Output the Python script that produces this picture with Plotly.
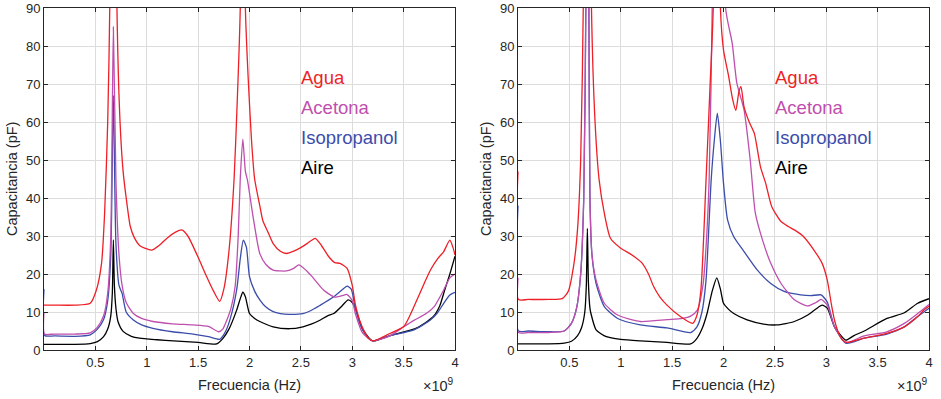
import plotly.graph_objects as go

# ---------------- data (frequency in GHz, i.e. x 10^9 Hz; capacitance in pF) -------------
# Left panel
agua_L_f = [0, 0.1, 0.3, 0.45, 0.51, 0.56, 0.59, 0.62, 0.64, 0.67, 0.71, 0.74, 0.77, 0.80, 0.84, 0.88, 0.93,
            0.98, 1.05, 1.12, 1.2, 1.28, 1.34, 1.40, 1.49, 1.58, 1.65, 1.71, 1.75, 1.80, 1.85, 1.88, 1.91,
            1.935, 1.96, 1.99, 2.02, 2.05, 2.10, 2.13, 2.18, 2.23, 2.30, 2.36, 2.43, 2.49, 2.56, 2.64, 2.70,
            2.77, 2.83, 2.88, 2.95, 3.0, 3.03, 3.07, 3.11, 3.16, 3.20, 3.28, 3.37, 3.50, 3.56, 3.63, 3.70,
            3.76, 3.83, 3.89, 3.95, 3.98, 4.0]
agua_L_c = [11.8, 11.8, 11.8, 12.3, 15.8, 22.8, 36, 60, 90, 300, 90, 60, 47, 40, 32.5, 29.5, 27.5,
            26.8, 26.3, 27.5, 29.5, 31, 31.6, 30, 25, 19.5, 15.5, 12.8, 16, 26, 45, 65, 90,
            300, 90, 70, 55, 45, 38, 34, 31, 28, 26, 25.4, 26, 26.8, 28, 29.4, 27.5,
            24.6, 23, 22.8, 21.5, 17, 12, 8, 5.3, 3.0, 2.4, 3.2, 4.4, 6.1, 9, 13.2, 17.5,
            21, 24, 25.9, 28.9, 27, 25]

acetona_L_f = [0, 0.005, 0.1, 0.3, 0.45, 0.52, 0.58, 0.62, 0.65, 0.675, 0.70, 0.73, 0.76, 0.80, 0.87,
               0.95, 1.06, 1.25, 1.45, 1.6, 1.70, 1.74, 1.78, 1.82, 1.86, 1.89, 1.91, 1.935, 1.96, 1.98,
               2.04, 2.10, 2.16, 2.23, 2.30, 2.36, 2.43, 2.48, 2.55, 2.61, 2.72, 2.83, 2.90, 2.95, 3.0,
               3.03, 3.1, 3.2, 3.37, 3.5, 3.6, 3.72, 3.8, 3.89, 3.95, 4.0]
acetona_L_c = [10, 4.2, 4.2, 4.2, 4.5, 6, 9, 15, 30, 85, 44.7, 25, 17, 12.5, 9.6,
               8.3, 7.5, 6.9, 6.6, 6.2, 4.8, 5.5, 7.9, 11, 16.7, 30, 45, 55.5, 47, 44.7,
               34.2, 25.4, 22.5, 21, 20.8, 20.8, 21.5, 22.4, 21, 19.3, 15.8, 13.9, 14.3, 14.6, 13,
               9.6, 4.5, 2.4, 3.8, 6.1, 7.8, 9.6, 11.5, 15.8, 19, 20]

isoprop_L_f = [0, 0.005, 0.1, 0.3, 0.45, 0.52, 0.58, 0.62, 0.65, 0.675, 0.70, 0.73, 0.76, 0.80, 0.87,
               0.95, 1.06, 1.25, 1.45, 1.6, 1.71, 1.76, 1.81, 1.875, 1.91, 1.94, 1.97, 2.0, 2.05, 2.10,
               2.16, 2.23, 2.30, 2.39, 2.52, 2.60, 2.69, 2.82, 2.90, 2.95, 2.99, 3.03, 3.08, 3.13, 3.2,
               3.37, 3.6, 3.76, 3.83, 3.89, 3.95, 4.0]
isoprop_L_c = [16, 3.8, 3.7, 3.6, 4.0, 5.5, 8, 13, 25, 67, 28, 17, 14.9, 10, 7.9,
               6.6, 5.7, 4.8, 4.2, 3.5, 2.8, 4.5, 8, 15.8, 24, 28.9, 27, 19.3, 15.5, 13.2,
               11.3, 10.1, 9.6, 9.4, 9.6, 10.4, 11.8, 14, 15.8, 16.8, 16, 11, 6.5, 4.0, 2.4,
               3.8, 5.3, 7.9, 9.8, 12.3, 14.5, 15.2]

aire_L_f = [0, 0.1, 0.3, 0.45, 0.52, 0.58, 0.62, 0.65, 0.665, 0.675, 0.685, 0.70, 0.72, 0.77, 0.85,
            0.93, 1.1, 1.26, 1.5, 1.68, 1.74, 1.80, 1.875, 1.91, 1.935, 1.96, 2.0, 2.05, 2.10, 2.23,
            2.39, 2.52, 2.60, 2.69, 2.76, 2.82, 2.90, 2.96, 3.0, 3.03, 3.1, 3.2, 3.37, 3.63, 3.79,
            3.85, 3.90, 3.95, 4.0]
aire_L_c = [1.5, 1.5, 1.5, 1.7, 2.2, 3.5, 5.5, 9, 15, 29, 17, 11, 7.5, 4.9, 3.6,
            3.1, 2.7, 2.4, 2.0, 1.6, 3, 5.5, 10.5, 13.5, 15.2, 14, 9.6, 8.3, 7.5, 6.1,
            5.6, 6.1, 6.8, 7.9, 9, 9.6, 11.6, 13.2, 12.5, 11, 5.5, 2.4, 3.8, 5.8, 8.8,
            11.5, 15.8, 20, 24.7]

# Right panel
agua_R_f = [0, 0.005, 0.1, 0.3, 0.43, 0.49, 0.545, 0.58, 0.61, 0.635, 0.67, 0.715, 0.75, 0.79, 0.84,
            0.90, 1.0, 1.08, 1.13, 1.21, 1.27, 1.32, 1.38, 1.45, 1.58, 1.70, 1.74, 1.78, 1.83, 1.87,
            1.90, 1.94, 1.97, 2.0, 2.05, 2.09, 2.12, 2.15, 2.17, 2.20, 2.25, 2.30, 2.36, 2.41, 2.47,
            2.56, 2.63, 2.69, 2.78, 2.88, 2.96, 3.01, 3.05, 3.08, 3.12, 3.16, 3.20, 3.27, 3.37, 3.59,
            3.76, 3.89, 3.95, 4.0]
agua_R_c = [47, 13.3, 13.3, 13.3, 13.5, 15.5, 22.8, 32, 50, 90, 300, 90, 60, 44.7, 36,
            29.4, 26.8, 25.5, 24.6, 22.8, 20, 16.7, 14, 11.8, 8.8, 7.0, 9, 15.8, 44.7, 70,
            90, 300, 90, 79, 72, 65.8, 63, 68, 69.3, 64, 60, 57, 48.2, 43.9, 37.7,
            33.8, 32.5, 31.6, 29.8, 26.3, 22.8, 18.4, 12, 7.9, 4.5, 2.6, 2.0, 2.4, 3.1, 4.4,
            6.1, 8.8, 10.5, 11.5]

acetona_R_f = [0, 0.005, 0.1, 0.3, 0.45, 0.52, 0.57, 0.61, 0.64, 0.66, 0.675, 0.69, 0.70, 0.72, 0.76,
               0.84, 0.97, 1.19, 1.45, 1.60, 1.68, 1.745, 1.80, 1.83, 1.86, 1.89, 1.95, 2.02, 2.085,
               2.13, 2.20, 2.26, 2.31, 2.38, 2.46, 2.56, 2.69, 2.82, 2.90, 2.95, 3.01, 3.08, 3.19,
               3.37, 3.59, 3.76, 3.89, 4.0]
acetona_R_c = [19, 4.6, 4.6, 4.6, 5.0, 7, 11, 20, 40, 90, 300, 90, 40, 25, 18.4,
               12.3, 9.2, 7.5, 8.0, 8.3, 8.9, 10.5, 17, 27, 44.7, 90, 300, 90, 80.7,
               70.2, 63.2, 50, 36, 28.9, 22.8, 17.5, 13.2, 11.6, 12.5, 13.3, 11.8, 6.1, 2.0,
               3.7, 4.8, 7.0, 9.6, 12]

isoprop_R_f = [0, 0.005, 0.1, 0.3, 0.45, 0.52, 0.57, 0.61, 0.64, 0.66, 0.675, 0.69, 0.70, 0.72, 0.76,
               0.84, 0.97, 1.19, 1.45, 1.68, 1.74, 1.79, 1.83, 1.88, 1.91, 1.94, 1.97, 2.0, 2.04,
               2.10, 2.20, 2.33, 2.46, 2.59, 2.75, 2.85, 2.95, 3.01, 3.08, 3.19, 3.37, 3.59, 3.76,
               3.89, 4.0]
isoprop_R_c = [38, 5.0, 5.0, 4.8, 5.0, 7, 11, 20, 40, 90, 150, 90, 40, 25, 17.5,
               11.4, 8.3, 6.6, 5.8, 4.6, 6, 10, 18.4, 44.7, 55, 62.3, 55, 43.9, 34.2,
               29.8, 25.9, 21, 17.5, 15.4, 14.5, 14.3, 14.5, 12.6, 6.1, 1.8, 3.1, 4.2, 6.1,
               8.8, 11]

aire_R_f = [0, 0.1, 0.3, 0.45, 0.52, 0.58, 0.62, 0.65, 0.665, 0.675, 0.685, 0.70, 0.71, 0.76, 0.86,
            1.0, 1.19, 1.45, 1.68, 1.74, 1.79, 1.84, 1.89, 1.935, 1.97, 2.0, 2.05, 2.10, 2.23, 2.39,
            2.52, 2.69, 2.82, 2.90, 2.96, 3.01, 3.08, 3.19, 3.27, 3.37, 3.59, 3.76, 3.89, 4.0]
aire_R_c = [1.6, 1.6, 1.6, 1.8, 2.3, 3.8, 6, 10, 17, 32, 18, 11, 9.6, 5.3, 3.5,
            2.8, 2.4, 2.0, 1.6, 3.0, 5.5, 9.6, 15.5, 19, 16, 12.3, 10.7, 9.6, 7.9, 6.8,
            6.6, 7.5, 9.2, 10.8, 11.8, 11, 6.1, 2.6, 3.8, 5, 8.3, 9.8, 12.3, 13.5]

names = ["Agua", "Acetona", "Isopropanol", "Aire"]
colors = ["#EE1F27", "#BF4FAE", "#3B4DAA", "#000000"]
x_tick_vals = [0.5, 1, 1.5, 2, 2.5, 3, 3.5, 4]
x_tick_text = ["0.5", "1", "1.5", "2", "2.5", "3", "3.5", "4"]
y_tick_vals = [0, 10, 20, 30, 40, 50, 60, 70, 80, 90]

left_series = [(agua_L_f, agua_L_c), (acetona_L_f, acetona_L_c), (isoprop_L_f, isoprop_L_c), (aire_L_f, aire_L_c)]
right_series = [(agua_R_f, agua_R_c), (acetona_R_f, acetona_R_c), (isoprop_R_f, isoprop_R_c), (aire_R_f, aire_R_c)]

# ---------------- figure ----------------
W, H = 941, 399
FONT = "Liberation Sans, Arial, Helvetica, sans-serif"
TXT = "#262626"

fig = go.Figure()
order = [3, 2, 1, 0]
for axi, series in (("", left_series), ("2", right_series)):
    for i in order:
        f, c = series[i]
        fig.add_trace(go.Scatter(x=f, y=c, mode="lines", name=names[i],
                                 line=dict(color=colors[i], width=1.3, shape="spline", smoothing=0.6),
                                 xaxis="x" + axi, yaxis="y" + axi, showlegend=False,
                                 hoverinfo="skip"))

pl = [(44, 455), (518, 929)]
ytop, ybot = 8, 350
ydom = [1 - ybot / H, 1 - ytop / H]

axis_common = dict(showgrid=True, gridcolor="#dcdcdc", gridwidth=1, zeroline=False,
                   showline=True, linecolor=TXT, linewidth=1, mirror="ticks",
                   ticks="inside", ticklen=4, tickcolor=TXT, automargin=False,
                   tickfont=dict(family=FONT, size=13, color=TXT))

layout = dict(width=W, height=H, margin=dict(l=0, r=0, t=0, b=0, pad=0, autoexpand=False),
              paper_bgcolor="white", plot_bgcolor="white", showlegend=False)
for k, (x0, x1) in enumerate(pl):
    sx = "" if k == 0 else "2"
    layout["xaxis" + sx] = dict(domain=[x0 / W, x1 / W], range=[0, 4], tickvals=x_tick_vals,
                                ticktext=x_tick_text, anchor="y" + sx, **axis_common)
    layout["yaxis" + sx] = dict(domain=ydom, range=[0, 90], tickvals=y_tick_vals,
                                anchor="x" + sx, **axis_common)
fig.update_layout(**layout)

ann = []
label_y = [71.6, 63.7, 56.0, 47.9]
for k, (x0, x1) in enumerate(pl):
    sx = "" if k == 0 else "2"
    for i in range(4):
        ann.append(dict(x=2.485, y=label_y[i], xref="x" + sx, yref="y" + sx, text=names[i],
                        showarrow=False, xanchor="left", yanchor="middle",
                        font=dict(family=FONT, size=18.5, color=colors[i])))
    ann.append(dict(x=(x0 + x1) / 2 / W, y=1 - 385 / H, xref="paper", yref="paper",
                    text="Frecuencia (Hz)", showarrow=False, xanchor="center", yanchor="middle",
                    font=dict(family=FONT, size=14.5, color=TXT)))
    ann.append(dict(x=(x1 + 1) / W, y=1 - 385 / H, xref="paper", yref="paper",
                    text="×10<sup>9</sup>", showarrow=False, xanchor="right", yanchor="middle",
                    font=dict(family=FONT, size=14.5, color=TXT)))
    ann.append(dict(x=(x0 - 32) / W, y=1 - (ytop + ybot) / 2 / H, xref="paper", yref="paper",
                    text="Capacitancia (pF)", showarrow=False, textangle=-90,
                    xanchor="center", yanchor="middle",
                    font=dict(family=FONT, size=14.5, color=TXT)))
fig.update_layout(annotations=ann)

fig.write_html("out.html", config={"displayModeBar": False, "staticPlot": True},
               post_script="document.body.style.margin='0';document.body.style.padding='0';"
                           "document.body.style.overflow='hidden';")
